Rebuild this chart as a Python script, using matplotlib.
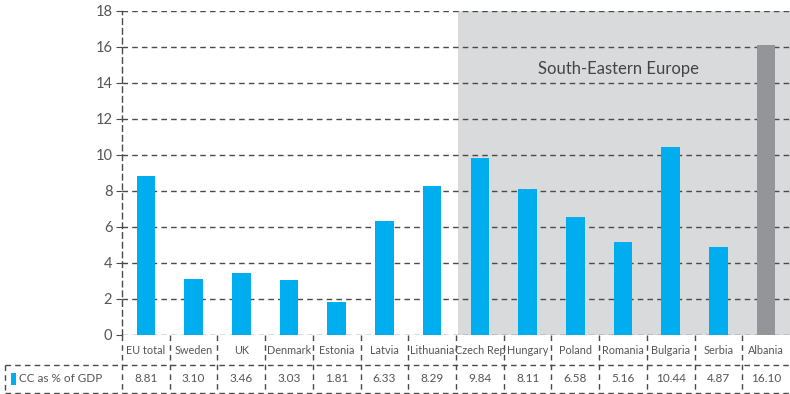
import matplotlib
matplotlib.use("Agg")
import matplotlib.pyplot as plt
from matplotlib.patches import Rectangle
import numpy as np

countries = ["EU total", "Sweden", "UK", "Denmark", "Estonia", "Latvia", "Lithuania",
             "Czech Rep", "Hungary", "Poland", "Romania", "Bulgaria", "Serbia", "Albania"]
cc_gdp = [8.81, 3.10, 3.46, 3.03, 1.81, 6.33, 8.29,
          9.84, 8.11, 6.58, 5.16, 10.44, 4.87, 16.10]
value_labels = ["8.81", "3.10", "3.46", "3.03", "1.81", "6.33", "8.29",
                "9.84", "8.11", "6.58", "5.16", "10.44", "4.87", "16.10"]
y_ticks = [0, 2, 4, 6, 8, 10, 12, 14, 16, 18]
series_name = "CC as % of GDP"
region_label = "South-Eastern Europe"
region_start = "Czech Rep"

blue = "#00AEEF"
grey_bar = "#939598"
shade = "#D9DADC"
grid_c = "#4a4a4a"
text_c = "#555555"

plt.rcParams["font.family"] = ["Lato", "DejaVu Sans"]

fig = plt.figure(figsize=(7.9, 3.94), dpi=100)
ax = fig.add_axes([122 / 790, 59 / 394, 668 / 790, 324 / 394])

n = len(countries)
x = np.arange(n)
colors = [blue] * (n - 1) + [grey_bar]

# shaded regional block
start = countries.index(region_start) - 0.5
ax.add_patch(Rectangle((start + 0.04, 0), n - 0.5 - start, 18, facecolor=shade,
                       edgecolor="none", zorder=0))

ax.bar(x, cc_gdp, width=0.39, color=colors, zorder=3)

ax.set_xlim(-0.5, n - 0.5)
ax.set_ylim(0, 18)
ax.set_yticks(y_ticks)
ax.set_xticks([])
ax.tick_params(axis="y", length=4, color=grid_c, labelsize=10.5, labelcolor=text_c, pad=3)
for s in ["top", "right", "bottom"]:
    ax.spines[s].set_visible(False)
ax.spines["left"].set_linestyle((0, (4, 3)))
ax.spines["left"].set_color(grid_c)
ax.spines["left"].set_linewidth(1)

for t in y_ticks:
    ax.axhline(t, color=grid_c, lw=1, ls=(0, (4, 3)), zorder=1)

ax.text(np.mean([start, n - 0.5]) - 0.1, 14.8, region_label, ha="center", va="center",
        fontsize=12, color="#444444", zorder=4)

# data table beneath the axis
tr = ax.get_xaxis_transform()
lab_y = -16 / 324
val_y = -44 / 324
mid_line = -30 / 324
bot_line = -58 / 324
left_x = -0.5 - 117 / 47.71

dash = (0, (4, 3))
for b in np.arange(-0.5, n - 0.5, 1.0):
    ax.plot([b, b], [0, bot_line], transform=tr, color=grid_c, lw=1, ls=dash, clip_on=False)
ax.plot([left_x, left_x], [mid_line, bot_line], transform=tr, color=grid_c, lw=1, ls=dash,
        clip_on=False)
for yy in (mid_line, bot_line):
    ax.plot([left_x, n - 0.5], [yy, yy], transform=tr, color=grid_c, lw=1, ls=dash,
            clip_on=False)

for i in range(n):
    ax.text(i, lab_y, countries[i], transform=tr, ha="center", va="center",
            fontsize=7.8, color=text_c)
    ax.text(i, val_y, value_labels[i], transform=tr, ha="center", va="center",
            fontsize=8.5, color=text_c)

ax.add_patch(Rectangle((left_x + 6 / 47.71, val_y - 6 / 324), 5 / 47.71, 12 / 324,
                       transform=tr, facecolor=blue, edgecolor="none", clip_on=False))
ax.text(left_x + 14 / 47.71, val_y, series_name, transform=tr, ha="left", va="center",
        fontsize=8.5, color=text_c)

fig.savefig("out.png", dpi=100)
